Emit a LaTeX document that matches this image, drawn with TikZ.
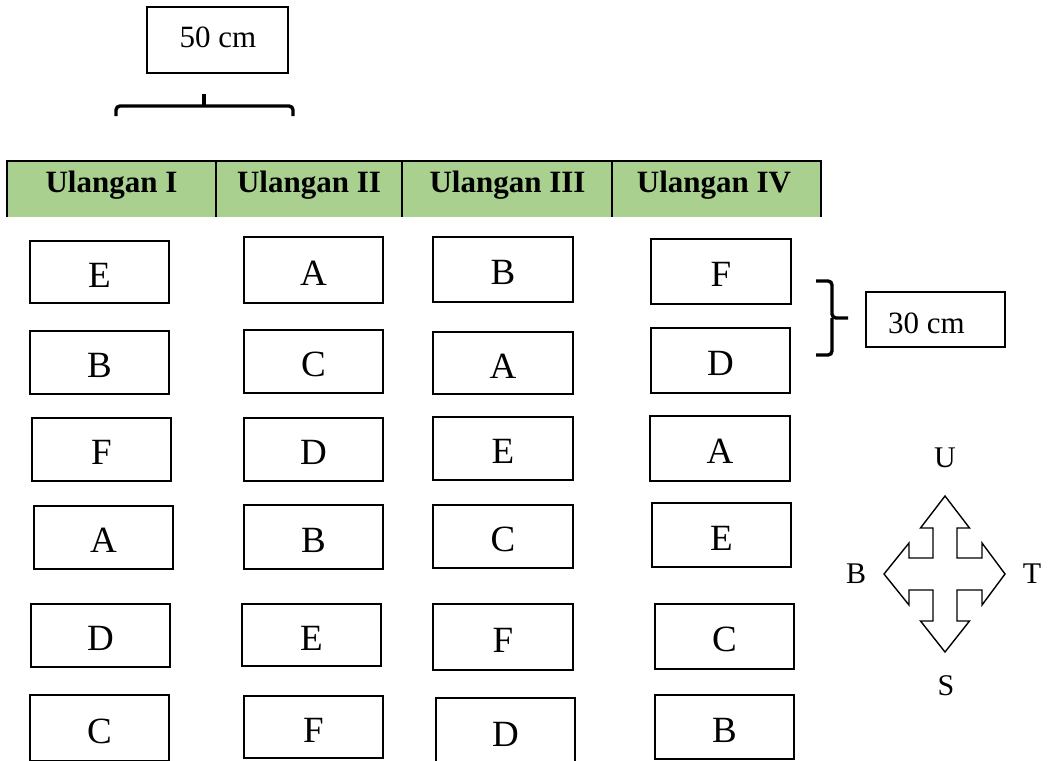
\documentclass[tikz,border=0pt]{standalone}
\usepackage{fontspec}
\setmainfont{Liberation Serif}
\definecolor{hdrgreen}{RGB}{169,208,142}
\begin{document}
\begin{tikzpicture}[x=1pt,y=-1pt,
  cell/.style={draw, line width=2.4pt, inner sep=0pt, text height=30pt, text depth=0pt,
    font=\fontsize{37}{37}\selectfont},
  hdrtext/.style={anchor=base, inner sep=0pt, font=\bfseries\fontsize{31}{31}\selectfont},
  lbl/.style={inner sep=0pt, font=\fontsize{31}{31}\selectfont},
  dir/.style={inner sep=0pt, font=\fontsize{30}{30}\selectfont},
  brace/.style={line width=3.4pt, rounded corners=4pt},
  hline/.style={line width=2.6pt}]
\useasboundingbox (0,0) rectangle (1048,760);
\clip (0,0) rectangle (1048,760);

% 50 cm box and top brace
\node[draw, line width=2.4pt, minimum width=141pt, minimum height=66pt, inner sep=0pt] (b50) at (217.5,40) {};
\node[lbl, anchor=base] (t50) at (218,48) {50 cm};
\draw[brace] (116,116) -- (116,106) -- (293,106) -- (293,116);
\draw[line width=3.4pt] (204,106) -- (204,94);

% header
\fill[hdrgreen] (7,161) rectangle (821,217);
\draw[hline] (7,161) -- (822,161);
\draw[hline] (7,160) -- (7,217);
\draw[hline] (821,160) -- (821,217);
\draw[hline] (216,161) -- (216,217);
\draw[hline] (402,161) -- (402,217);
\draw[hline] (612,161) -- (612,217);
\node[hdrtext] (h1) at (111.5,192) {Ulangan I};
\node[hdrtext] (h2) at (309,192) {Ulangan II};
\node[hdrtext] (h3) at (507.5,192) {Ulangan III};
\node[hdrtext] (h4) at (714,192) {Ulangan IV};

% column 1
\node[cell, minimum width=139pt, minimum height=62pt] (c11) at (99.5,272) {E};
\node[cell, minimum width=139pt, minimum height=63pt] (c12) at (99.5,362.5) {B};
\node[cell, minimum width=139pt, minimum height=63pt] (c13) at (101.5,449.5) {F};
\node[cell, minimum width=139pt, minimum height=63pt] (c14) at (103.5,537.5) {A};
\node[cell, minimum width=139pt, minimum height=63pt] (c15) at (100.5,635.5) {D};
\node[cell, minimum width=139pt, minimum height=66pt] (c16) at (99.5,728) {C};
% column 2
\node[cell, minimum width=139pt, minimum height=66pt] (c21) at (313.5,270) {A};
\node[cell, minimum width=139pt, minimum height=63pt] (c22) at (313.5,361.5) {C};
\node[cell, minimum width=139pt, minimum height=63pt] (c23) at (313.5,449.5) {D};
\node[cell, minimum width=139pt, minimum height=64pt] (c24) at (313.5,537) {B};
\node[cell, minimum width=139pt, minimum height=62pt] (c25) at (311.5,635) {E};
\node[cell, minimum width=139pt, minimum height=62pt] (c26) at (313.5,727) {F};
% column 3
\node[cell, minimum width=140pt, minimum height=65pt] (c31) at (503,269.5) {B};
\node[cell, minimum width=140pt, minimum height=62pt] (c32) at (503,363) {A};
\node[cell, minimum width=140pt, minimum height=63pt] (c33) at (503,448.5) {E};
\node[cell, minimum width=140pt, minimum height=63pt] (c34) at (503,536.5) {C};
\node[cell, minimum width=140pt, minimum height=66pt] (c35) at (503,637) {F};
\node[cell, minimum width=139pt, minimum height=66pt] (c36) at (505.5,731) {D};
% column 4
\node[cell, minimum width=140pt, minimum height=65pt] (c41) at (721,271.5) {F};
\node[cell, minimum width=139pt, minimum height=65pt] (c42) at (720.5,360.5) {D};
\node[cell, minimum width=140pt, minimum height=65pt] (c43) at (720,448.5) {A};
\node[cell, minimum width=139pt, minimum height=64pt] (c44) at (721.5,535) {E};
\node[cell, minimum width=139pt, minimum height=65pt] (c45) at (724.5,636.5) {C};
\node[cell, minimum width=139pt, minimum height=64pt] (c46) at (724.5,727) {B};

% right brace and 30 cm
\draw[brace] (816,281) -- (832,281) -- (832,318) -- (848,318);
\draw[brace] (832,318) -- (832,355) -- (816,355);
\node[draw, line width=2.4pt, minimum width=139pt, minimum height=55pt, inner sep=0pt] (b30) at (935.5,319.5) {};
\node[lbl, anchor=base] (t30) at (926.5,333) {30 cm};

% compass
\begin{scope}[shift={(945,574)}]
\draw[line width=1.4pt, line join=miter]
  (0,-78) -- (24.5,-46) -- (12,-46) -- (12,-16) -- (37,-16) -- (37,-31) -- (60,0)
  -- (37,31) -- (37,16) -- (12,16) -- (12,47) -- (24.5,47) -- (0,78)
  -- (-24.5,47) -- (-12,47) -- (-12,16) -- (-36,16) -- (-36,31) -- (-61,0)
  -- (-36,-31) -- (-36,-16) -- (-12,-16) -- (-12,-46) -- (-24.5,-46) -- cycle;
\end{scope}
\node[dir] (dU) at (945,458) {U};
\node[dir] (dB) at (856,574) {B};
\node[dir] (dT) at (1032,574) {T};
\node[dir] (dS) at (946,686) {S};
\end{tikzpicture}
\end{document}
